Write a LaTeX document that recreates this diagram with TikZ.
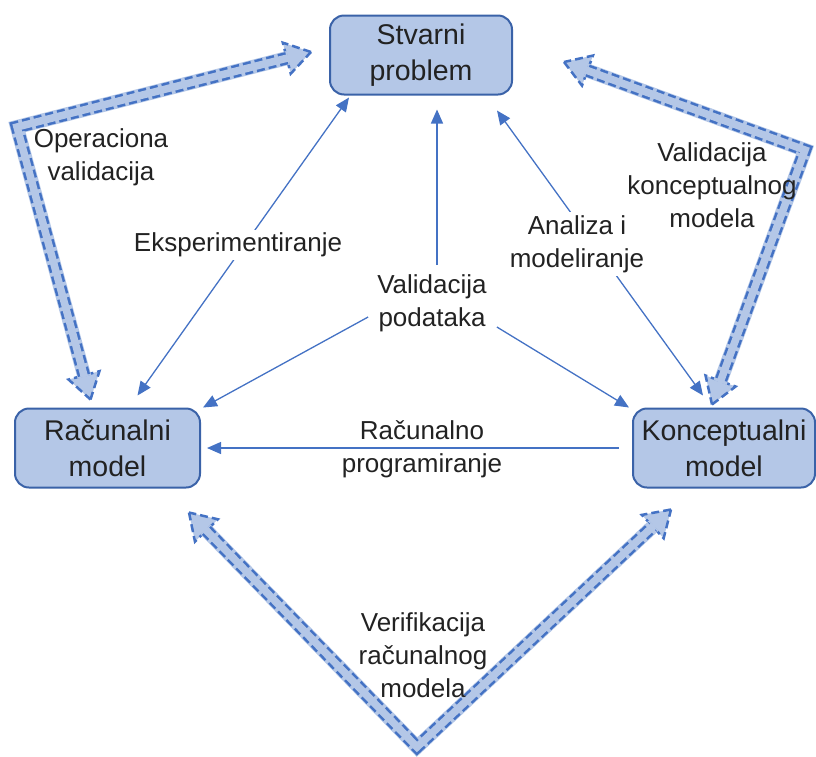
\documentclass[tikz,border=0pt]{standalone}
\usepackage{fontspec}
\setmainfont{Liberation Sans}
\usetikzlibrary{arrows.meta,calc}
\definecolor{boxfill}{HTML}{B4C7E7}
\definecolor{boxline}{HTML}{3A62A8}
\definecolor{arrowc}{HTML}{4472C4}
\definecolor{textc}{HTML}{222222}
\tikzset{
  mbox/.style={draw=boxline, line width=2pt, fill=boxfill, rounded corners=14pt,
    align=center, text=textc, font=\fontsize{28.5}{36}\selectfont,
    minimum height=79pt, inner sep=0pt},
  lbl/.style={align=center, text=textc, font=\fontsize{26}{33}\selectfont, inner sep=3pt},
  flow/.style={draw=arrowc, line width=1.3pt},
  >={Triangle[length=14pt,width=12pt]},
  fatback/.style={draw=boxfill, line width=14pt, line join=miter},
  fatout/.style={draw=arrowc, line width=12.5pt, line join=miter, dash pattern=on 8pt off 4pt},
  fatin/.style={draw=boxfill, line width=7.5pt, line join=miter},
  fathead/.style={draw=arrowc, fill=boxfill, line width=2.5pt, dash pattern=on 8pt off 4pt}
}
% tip, bend, tip
\newcommand{\fatarrow}[3]{%
  \coordinate (ha) at ($(#1)!25pt!(#2)$);
  \coordinate (hb) at ($(#3)!25pt!(#2)$);
  \draw[fathead] (#1) -- ($(ha)!16pt!90:(#1)$) -- ($(ha)!16pt!-90:(#1)$) -- cycle;
  \draw[fathead] (#3) -- ($(hb)!16pt!90:(#3)$) -- ($(hb)!16pt!-90:(#3)$) -- cycle;
  \draw[fatback] ($(ha)!-1.5pt!(#2)$) -- (#2) -- ($(hb)!-1.5pt!(#2)$);
  \draw[fatout] (ha) -- (#2) -- (hb);
  \draw[fatin] ($(ha)!-1.5pt!(#2)$) -- (#2) -- ($(hb)!-1.5pt!(#2)$);
}
\begin{document}
\begin{tikzpicture}[x=1pt,y=-1pt]
\useasboundingbox (0,0) rectangle (816,756);

% boxes
\node[mbox, minimum width=182pt] (stv) at (421,55) {Stvarni\\problem};
\node[mbox, minimum width=185pt] (rac) at (107.5,448) {Računalni\\model};
\node[mbox, minimum width=182pt] (kon) at (724,448) {Konceptualni\\model};

% big dashed arrows
\coordinate (lb) at (17,127);
\coordinate (rb) at (805,150);
\coordinate (bb) at (417,747);
\coordinate (lt1) at ([xshift=-18pt,yshift=3pt]stv.west);
\coordinate (lt2) at ([xshift=-17pt,yshift=8pt]rac.north);
\coordinate (rt1) at ([xshift=51pt,yshift=-7pt]stv.east);
\coordinate (rt2) at ([xshift=-12pt,yshift=3pt]kon.north);
\coordinate (bt1) at ([xshift=-12pt,yshift=-24pt]rac.south east);
\coordinate (bt2) at ([xshift=39pt,yshift=-21pt]kon.south west);
\fatarrow{lt1}{lb}{lt2}
\fatarrow{rt1}{rb}{rt2}
\fatarrow{bt1}{bb}{bt2}

% thin arrows
\draw[flow,<->] ([xshift=30pt,yshift=12pt]rac.north) -- ([xshift=20pt,yshift=-2pt]stv.south west);
\draw[flow,<->] ([xshift=-21pt,yshift=12pt]kon.north) -- ([xshift=76pt,yshift=-15pt]stv.south);
\draw[flow,->] ([xshift=-13pt]kon.west) -- ([xshift=6pt]rac.east);

\node[lbl] (vp) at (432,303) {Validacija\\podataka};
\draw[flow,->] ([xshift=5pt,yshift=6pt]vp.north) -- ([xshift=16pt,yshift=-14pt]stv.south);
\draw[flow,->] ([xshift=-6pt,yshift=-14pt]vp.west) -- ([xshift=2pt]rac.north east);
\draw[flow,->] ([xshift=7pt,yshift=-24pt]vp.east) -- ([xshift=-3pt]kon.north west);

% labels
\node[lbl, fill=white] (eks) at (238,245) {Eksperimentiranje};
\node[lbl, fill=white] (ana) at (577,244) {Analiza i\\modeliranje};
\node[lbl] (rp) at (422,449) {Računalno\\programiranje};
\node[lbl] (ov) at (101,157) {Operaciona\\validacija};
\node[lbl] (vk) at (712,185) {Validacija\\konceptualnog\\modela};
\node[lbl] (vr) at (423,655) {Verifikacija\\računalnog\\modela};
\end{tikzpicture}
\end{document}
